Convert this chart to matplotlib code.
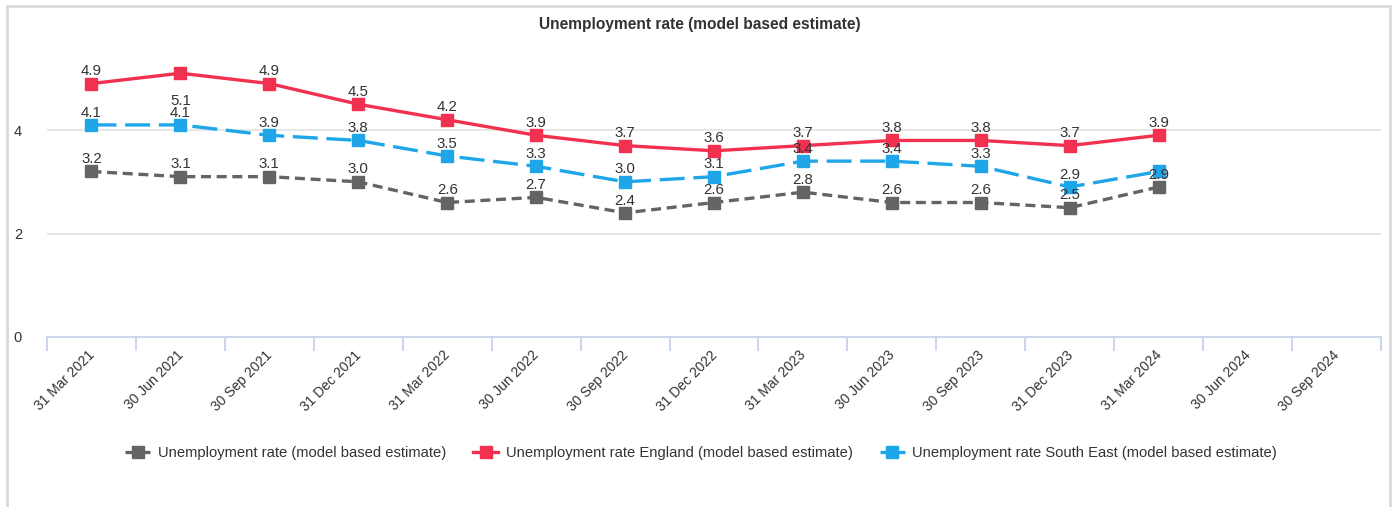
import matplotlib
matplotlib.use("Agg")
from matplotlib import pyplot as plt
from matplotlib.patches import Rectangle
from matplotlib.transforms import ScaledTranslation

plt.rcParams['font.family'] = ['Liberation Sans', 'DejaVu Sans']

# ───────── DATA ───────── #
quarters = ["31 Mar 2021", "30 Jun 2021", "30 Sep 2021", "31 Dec 2021",
            "31 Mar 2022", "30 Jun 2022", "30 Sep 2022", "31 Dec 2022",
            "31 Mar 2023", "30 Jun 2023", "30 Sep 2023", "31 Dec 2023",
            "31 Mar 2024", "30 Jun 2024", "30 Sep 2024"]
rate_local = [3.2, 3.1, 3.1, 3.0, 2.6, 2.7, 2.4, 2.6, 2.8, 2.6, 2.6, 2.5, 2.9]
rate_england = [4.9, 5.1, 4.9, 4.5, 4.2, 3.9, 3.7, 3.6, 3.7, 3.8, 3.8, 3.7, 3.9]
rate_south_east = [4.1, 4.1, 3.9, 3.8, 3.5, 3.3, 3.0, 3.1, 3.4, 3.4, 3.3, 2.9, 3.2]
y_ticks = [0, 2, 4]
# ──────────────────────── #

GREY = "#646464"
RED = "#F2304F"
BLUE = "#1EA6E8"
TEXT = "#333333"

fig = plt.figure(figsize=(13.95, 5.07), dpi=100)
W, H = 1395, 507
ax = fig.add_axes([47 / W, (H - 337) / H, (1381 - 47) / W, (337 - 37) / H])

# outer chart border
fig.patches.append(Rectangle((7 / W, -0.05), (1390 - 7) / W, (H - 6) / H + 0.05,
                             transform=fig.transFigure, fill=False,
                             edgecolor="#d9d9d9", linewidth=2))

x = list(range(len(quarters)))

series = [
    ("Unemployment rate (model based estimate)", rate_local, GREY, (0, (3, 1.7))),
    ("Unemployment rate England (model based estimate)", rate_england, RED, "-"),
    ("Unemployment rate South East (model based estimate)", rate_south_east, BLUE, (0, (7.5, 2.6))),
]

for label, vals, color, ls in series:
    ax.plot(x[:len(vals)], vals, color=color, linestyle=ls, linewidth=2.4,
            marker="s", markersize=8.5, label=label, zorder=3)

# data labels
for label, vals, color, ls in series:
    for i, v in enumerate(vals):
        if vals is rate_south_east and i == len(vals) - 1:
            continue  # hidden by overlap in the original
        below = vals is rate_england and i == 1
        ax.annotate(f"{v:.1f}", (i, v), xytext=(0, -15 if below else 6),
                    textcoords="offset points", ha="center",
                    va="top" if below else "baseline", fontsize=10.8,
                    color=TEXT, zorder=4)

ax.set_xlim(-0.5, len(quarters) - 0.5)
ax.set_ylim(0, 5.8)

ax.set_yticks(y_ticks)
ax.set_yticklabels([str(t) for t in y_ticks])
ax.tick_params(axis="y", length=0, pad=18, labelsize=10.5, labelcolor=TEXT)
for t in [2, 4]:
    ax.axhline(t, color="#e3e3e3", linewidth=1.2, zorder=1)

# category ticks at boundaries, labels at centres
ax.set_xticks([i - 0.5 for i in range(len(quarters) + 1)])
ax.set_xticklabels([])
ax.tick_params(axis="x", length=10, width=1.5, color="#cdd7ea")
ax.set_xticks(x, minor=True)
ax.set_xticklabels(quarters, minor=True, rotation=45, ha="right", va="top",
                   rotation_mode="anchor", fontsize=10, color=TEXT)
ax.tick_params(axis="x", which="minor", length=0, pad=8)
shift = ScaledTranslation(-4 / 100, 0, fig.dpi_scale_trans)
for lab in ax.get_xticklabels(minor=True):
    lab.set_transform(lab.get_transform() + shift)

for side in ["top", "right", "left"]:
    ax.spines[side].set_visible(False)
ax.spines["bottom"].set_color("#cdd7ea")
ax.spines["bottom"].set_linewidth(1.5)

fig.text(700 / W, 1 - 25 / H, "Unemployment rate (model based estimate)",
         ha="center", va="center", fontsize=11.2, fontweight="bold", color=TEXT)

fig.legend(loc="center", bbox_to_anchor=(701 / W, 1 - 453 / H), ncol=3,
           frameon=False, fontsize=10.6, handlelength=1.7, columnspacing=1.85,
           handletextpad=0.5, labelcolor=TEXT)

fig.savefig("out.png", dpi=100)
